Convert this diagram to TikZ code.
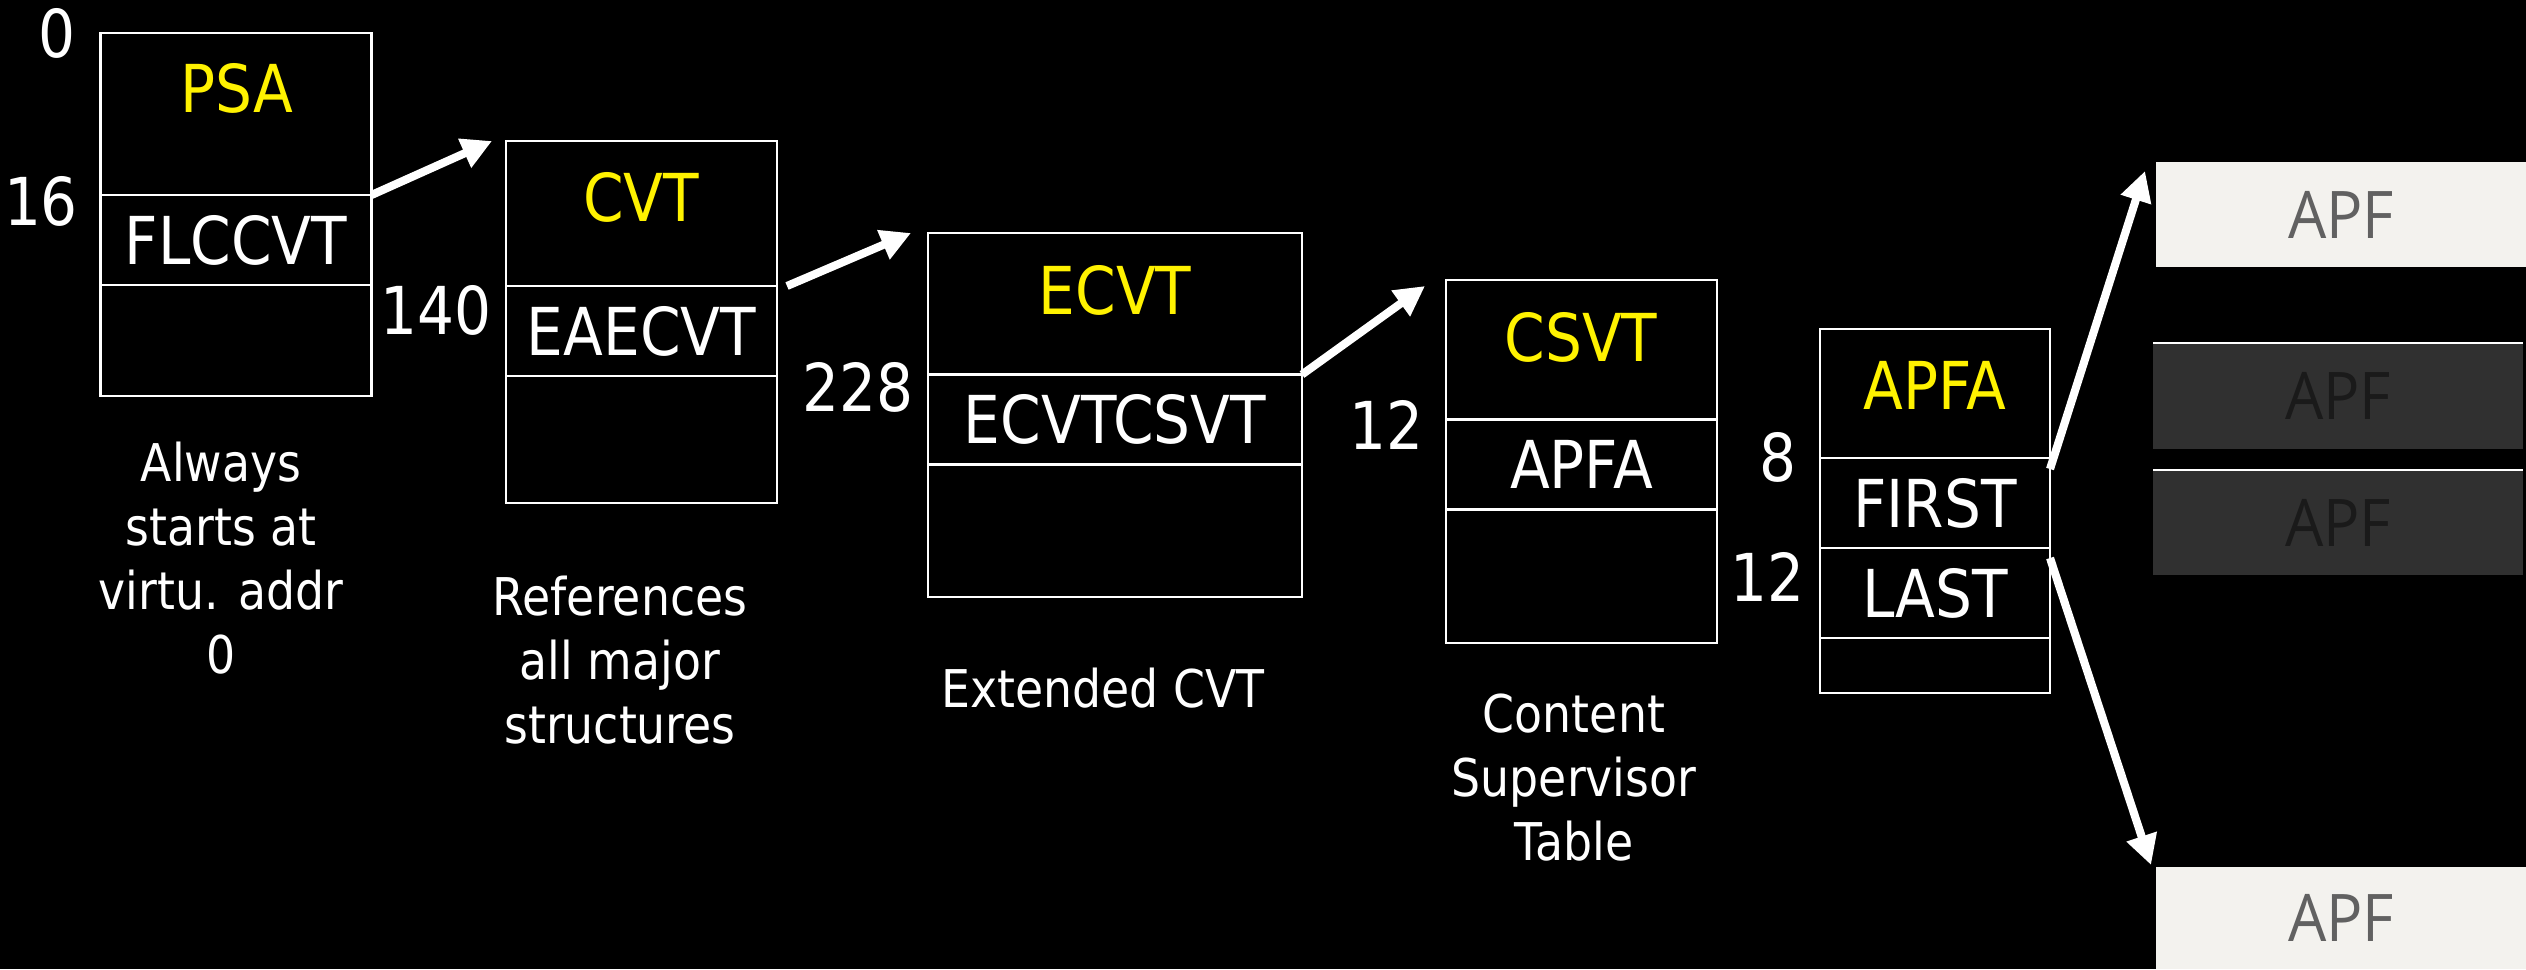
\documentclass[tikz,border=0pt]{standalone}
\usepackage{fontspec}
\setmainfont{DejaVu Sans}[FakeStretch=0.88]
\newfontfamily\apffont{Open Sans}[FakeStretch=0.92]
\usepackage{tikz}
\usetikzlibrary{arrows.meta,positioning,calc}

\definecolor{apflight}{HTML}{F3F2EE}
\definecolor{apfdark}{HTML}{303030}
\definecolor{apfgray}{HTML}{616161}
\definecolor{apfblack}{HTML}{1A1A1A}

\tikzset{
  tbl/.style={draw=white, line width=0.6pt, inner sep=0pt, outer sep=0pt, anchor=north west},
  fld/.style={draw=white, line width=0.6pt, inner sep=0pt, outer sep=0pt,
    minimum height=0.9cm, text=white, font=\fontsize{18.8}{22}\selectfont},
  ttl/.style={text=yellow, font=\fontsize{18.8}{22}\selectfont},
  num/.style={text=white, font=\fontsize{18.8}{22}\selectfont},
  captxt/.style={text=white, align=center, font=\fontsize{14.8}{18.2}\selectfont},
  ptr/.style={draw=white, line width=2.3pt, -{Triangle[length=0.3cm,width=0.3cm]}},
  apf/.style={inner sep=0pt, outer sep=0pt, anchor=north west, minimum width=3.70cm,
    font=\apffont\fontsize{18.7}{22}\selectfont}
}

\begin{document}
\begin{tikzpicture}
  \fill[black] (0,0) rectangle (25.26,-9.69);
  \useasboundingbox (0,0) rectangle (25.26,-9.69);

  \node[tbl, minimum width=2.71cm, minimum height=3.63cm] (psa) at (1.005,-0.33) {};
  \node[tbl, minimum width=2.71cm, minimum height=3.62cm] (cvt) at (5.06,-1.41) {};
  \node[tbl, minimum width=3.74cm, minimum height=3.64cm] (ecvt) at (9.28,-2.33) {};
  \node[tbl, minimum width=2.71cm, minimum height=3.63cm] (csvt) at (14.46,-2.80) {};
  \node[tbl, minimum width=2.30cm, minimum height=3.64cm] (apfa) at (18.20,-3.29) {};

  \node[ttl] (psat) at (2.37,-0.88) {PSA};
  \node[ttl] (cvtt) at (6.41,-1.97) {CVT};
  \node[ttl] (ecvtt) at (11.15,-2.90) {ECVT};
  \node[ttl] (csvtt) at (15.81,-3.37) {CSVT};
  \node[ttl] (apfat) at (19.35,-3.85) {APFA};

  \node[fld, minimum width=2.71cm] (flccvt) at (2.36,-2.40) {FLCCVT};
  \node[fld, minimum width=2.71cm] (eaecvt) at (6.415,-3.31) {EAECVT};
  \node[fld, minimum width=3.74cm] (ecvtcsvt) at (11.15,-4.195) {ECVTCSVT};
  \node[fld, minimum width=2.71cm] (apfafld) at (15.815,-4.645) {APFA};
  \node[fld, minimum width=2.30cm] (first) at (19.35,-5.03) {FIRST};
  \node[fld, minimum width=2.30cm] (last) at (19.35,-5.93) {LAST};

  \foreach \t/\x/\y [count=\i] in {0/0.57/-0.33, 16/0.41/-2.01, 140/4.36/-3.10,
      228/8.58/-3.87, 12/13.86/-4.25, 8/17.78/-4.57, 12/17.67/-5.77}
    \node[num] (off\i) at (\x,\y) {\t};

  \node[captxt] (psacap) at (2.21,-5.58) {Always\\starts at\\virtu. addr\\0};
  \node[captxt] (cvtcap) at (6.20,-6.60) {References\\all major\\structures};
  \node[captxt] (ecvtcap) at (11.03,-6.88) {Extended CVT};
  \node[captxt] (csvtcap) at (15.74,-7.78) {Content\\Supervisor\\Table};

  \node[apf, fill=apflight, text=apfgray, minimum height=1.05cm] (apf1) at (21.56,-1.62) {APF};
  \node[apf, fill=apfdark, text=apfblack, minimum height=1.06cm] (apf2) at (21.53,-3.43) {APF};
  \node[apf, fill=apfdark, text=apfblack, minimum height=1.05cm] (apf3) at (21.53,-4.70) {APF};
  \node[apf, fill=apflight, text=apfgray, minimum height=1.02cm] (apf4) at (21.56,-8.67) {APF};
  \draw[white, line width=0.5pt] (apf2.north west) -- (apf2.north east);
  \draw[white, line width=0.5pt] (apf3.north west) -- (apf3.north east);

  \draw[ptr] (flccvt.north east) -- ([xshift=-0.14cm]cvt.north west);
  \draw[ptr] ([xshift=0.1cm]eaecvt.north east) -- ([xshift=-0.17cm]ecvt.north west);
  \draw[ptr] (ecvtcsvt.north east) -- ([xshift=-0.21cm,yshift=-0.06cm]csvt.north west);
  \draw[ptr] ([yshift=-0.11cm]first.north east) -- ([xshift=-0.11cm,yshift=-0.09cm]apf1.north west);
  \draw[ptr] ([yshift=-0.1cm]last.north east) -- ([xshift=-0.05cm,yshift=0.02cm]apf4.north west);
\end{tikzpicture}
\end{document}
